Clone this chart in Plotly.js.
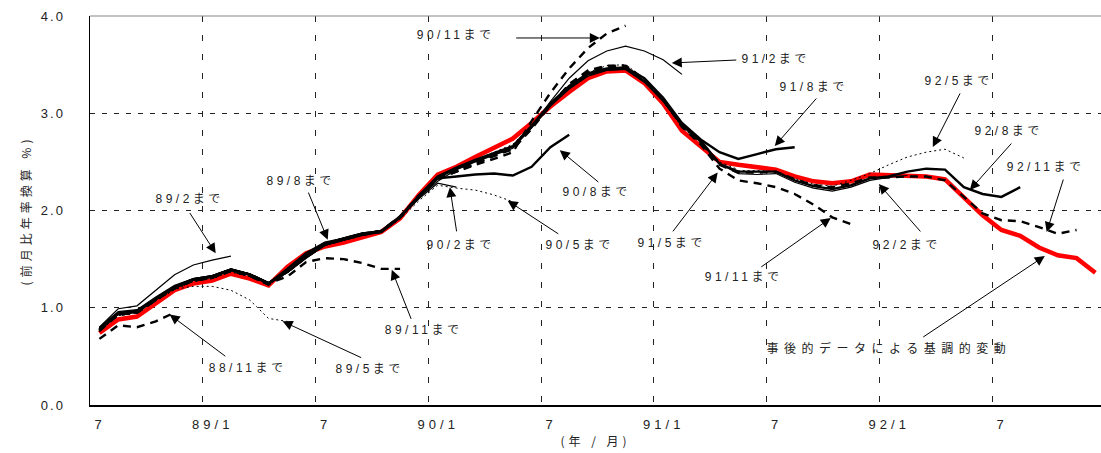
<!DOCTYPE html>
<html>
<head>
<meta charset="utf-8">
<script src="https://cdn.plot.ly/plotly-3.0.1.min.js"></script>
<style>
  body { margin: 0; background: #fff; }
  #chart { width: 1101px; height: 453px; }
  #chart .xtick text { letter-spacing: 4px; }
  #chart .ytick text { letter-spacing: 2px; }
  #chart .annotation-text { letter-spacing: 3.5px; }
  #chart g.annotation[data-index="34"] .annotation-text { letter-spacing: 5.5px; }
  #chart .g-xtitle text, #chart .g-ytitle text { letter-spacing: 4px; }
</style>
</head>
<body>
<div id="chart"></div>
<script>
// Monthly index runs from 88/7 (0) to 92/12 (53).
// Axis labels, one every six months.
const tickLabels = ['7', '89/1', '7', '90/1', '7', '91/1', '7', '92/1', '7'];

// Trend estimates (annualised m/m, %) as known at each vintage month.
const v8811 = [0.68, 0.82, 0.80, 0.86, 0.95];
const v8902 = [0.80, 0.99, 1.02, 1.18, 1.34, 1.44, 1.49, 1.53];
const v8905 = [0.76, 0.92, 0.95, 1.07, 1.19, 1.22, 1.22, 1.18, 1.08, 0.89, 0.86];
const v8908 = [0.77, 0.94, 0.96, 1.09, 1.21, 1.29, 1.32, 1.39, 1.34, 1.25, 1.40, 1.56, 1.67, 1.71];
const v8911 = [0.76, 0.93, 0.95, 1.08, 1.21, 1.28, 1.31, 1.38, 1.33, 1.25, 1.32, 1.47, 1.51, 1.50, 1.46, 1.40, 1.40];
const v9002 = [0.79, 0.95, 0.97, 1.10, 1.22, 1.30, 1.33, 1.40, 1.35, 1.26, 1.38, 1.54, 1.66, 1.72, 1.77, 1.79, 1.93, 2.12, 2.28, 2.24];
const v9005 = [0.76, 0.92, 0.95, 1.07, 1.19, 1.27, 1.30, 1.37, 1.32, 1.24, 1.36, 1.52, 1.64, 1.70, 1.75, 1.78, 1.91, 2.10, 2.26, 2.23, 2.21, 2.16, 2.09];
const v9008 = [0.78, 0.94, 0.96, 1.09, 1.21, 1.29, 1.32, 1.39, 1.34, 1.25, 1.38, 1.53, 1.66, 1.71, 1.76, 1.79, 1.94, 2.14, 2.33, 2.35, 2.37, 2.38, 2.36, 2.45, 2.65, 2.78];
const v9011 = [0.77, 0.93, 0.95, 1.08, 1.20, 1.28, 1.31, 1.38, 1.33, 1.24, 1.37, 1.52, 1.65, 1.70, 1.75, 1.78, 1.93, 2.15, 2.33, 2.40, 2.47, 2.53, 2.60, 2.92, 3.21, 3.46, 3.67, 3.82, 3.90];
const v9102 = [0.80, 0.96, 0.98, 1.11, 1.23, 1.30, 1.33, 1.40, 1.35, 1.26, 1.36, 1.51, 1.64, 1.70, 1.76, 1.79, 1.93, 2.14, 2.35, 2.43, 2.51, 2.58, 2.66, 2.86, 3.12, 3.36, 3.54, 3.64, 3.69, 3.64, 3.55, 3.40];
const v9105 = [0.77, 0.93, 0.95, 1.08, 1.20, 1.28, 1.31, 1.38, 1.33, 1.24, 1.37, 1.52, 1.65, 1.70, 1.75, 1.78, 1.93, 2.15, 2.34, 2.43, 2.51, 2.59, 2.67, 2.87, 3.09, 3.28, 3.42, 3.49, 3.50, 3.36, 3.16, 2.90, 2.72, 2.50, 2.42];
const v9108 = [0.78, 0.94, 0.96, 1.09, 1.21, 1.29, 1.32, 1.39, 1.34, 1.25, 1.37, 1.52, 1.65, 1.70, 1.76, 1.78, 1.93, 2.15, 2.35, 2.44, 2.52, 2.59, 2.66, 2.87, 3.10, 3.28, 3.41, 3.46, 3.47, 3.36, 3.16, 2.90, 2.73, 2.60, 2.53, 2.58, 2.63, 2.65];
const v9111 = [0.77, 0.93, 0.95, 1.08, 1.20, 1.28, 1.31, 1.38, 1.33, 1.24, 1.37, 1.52, 1.65, 1.71, 1.76, 1.79, 1.94, 2.15, 2.32, 2.40, 2.48, 2.56, 2.63, 2.84, 3.08, 3.30, 3.44, 3.49, 3.49, 3.35, 3.14, 2.86, 2.68, 2.43, 2.31, 2.28, 2.24, 2.17, 2.06, 1.93, 1.86];
const v9202 = [0.79, 0.95, 0.97, 1.10, 1.22, 1.30, 1.33, 1.40, 1.35, 1.26, 1.37, 1.53, 1.66, 1.72, 1.77, 1.79, 1.93, 2.13, 2.30, 2.42, 2.50, 2.57, 2.64, 2.85, 3.08, 3.25, 3.38, 3.44, 3.45, 3.32, 3.13, 2.87, 2.70, 2.48, 2.38, 2.37, 2.38, 2.29, 2.23, 2.20, 2.24, 2.31, 2.34, 2.36];
const v9205 = [0.76, 0.92, 0.95, 1.07, 1.19, 1.27, 1.30, 1.37, 1.32, 1.24, 1.38, 1.53, 1.64, 1.69, 1.74, 1.78, 1.92, 2.15, 2.35, 2.44, 2.52, 2.60, 2.68, 2.88, 3.09, 3.26, 3.39, 3.45, 3.46, 3.33, 3.12, 2.86, 2.69, 2.47, 2.41, 2.41, 2.40, 2.33, 2.27, 2.25, 2.31, 2.38, 2.47, 2.55, 2.60, 2.63, 2.54];
const v9208 = [0.78, 0.94, 0.96, 1.09, 1.21, 1.29, 1.32, 1.39, 1.34, 1.25, 1.37, 1.52, 1.65, 1.70, 1.75, 1.78, 1.93, 2.15, 2.34, 2.43, 2.51, 2.58, 2.66, 2.86, 3.08, 3.26, 3.40, 3.45, 3.46, 3.33, 3.13, 2.88, 2.72, 2.48, 2.40, 2.40, 2.40, 2.31, 2.25, 2.22, 2.26, 2.33, 2.35, 2.40, 2.43, 2.42, 2.24, 2.17, 2.14, 2.24];
const v9211 = [0.77, 0.93, 0.95, 1.08, 1.20, 1.28, 1.31, 1.38, 1.33, 1.24, 1.38, 1.53, 1.66, 1.71, 1.76, 1.79, 1.93, 2.14, 2.33, 2.42, 2.50, 2.57, 2.64, 2.85, 3.09, 3.28, 3.43, 3.48, 3.48, 3.34, 3.14, 2.87, 2.70, 2.47, 2.39, 2.39, 2.40, 2.32, 2.26, 2.24, 2.28, 2.34, 2.34, 2.35, 2.35, 2.31, 2.14, 1.97, 1.90, 1.89, 1.83, 1.76, 1.80];

// Ex-post trend based on the full (revised) data.
const exPost = [0.74, 0.88, 0.91, 1.04, 1.18, 1.25, 1.28, 1.35, 1.30, 1.23, 1.42, 1.56, 1.63, 1.67, 1.73, 1.78, 1.92, 2.16, 2.37, 2.45, 2.55, 2.64, 2.74, 2.90, 3.07, 3.22, 3.36, 3.43, 3.44, 3.31, 3.10, 2.82, 2.66, 2.50, 2.47, 2.45, 2.42, 2.35, 2.30, 2.28, 2.30, 2.37, 2.36, 2.35, 2.35, 2.32, 2.13, 1.95, 1.80, 1.74, 1.62, 1.54, 1.51, 1.36];

// Line style by vintage month: Nov = heavy dash, Feb = thin, May = dotted, Aug = heavy.
const STYLE = {
  nov: { color: '#000', width: 2.4, dash: '8px,6px' },
  feb: { color: '#000', width: 1.2, dash: 'solid' },
  may: { color: '#000', width: 1.0, dash: '2px,3px' },
  aug: { color: '#000', width: 2.4, dash: 'solid' }
};

const vintages = [
  ['88/11', v8811, 'nov'], ['89/2', v8902, 'feb'], ['89/5', v8905, 'may'], ['89/8', v8908, 'aug'],
  ['89/11', v8911, 'nov'], ['90/2', v9002, 'feb'], ['90/5', v9005, 'may'], ['90/8', v9008, 'aug'],
  ['90/11', v9011, 'nov'], ['91/2', v9102, 'feb'], ['91/5', v9105, 'may'], ['91/8', v9108, 'aug'],
  ['91/11', v9111, 'nov'], ['92/2', v9202, 'feb'], ['92/5', v9205, 'may'], ['92/8', v9208, 'aug'],
  ['92/11', v9211, 'nov']
];

const idx = arr => arr.map((_, i) => i);

const traces = [{
  x: idx(exPost), y: exPost, type: 'scatter', mode: 'lines',
  line: { color: '#ff0000', width: 4.5 }, hoverinfo: 'skip'
}];
vintages.forEach(([name, vals, key]) => {
  traces.push({
    name: name, x: idx(vals), y: vals, type: 'scatter', mode: 'lines',
    line: STYLE[key], hoverinfo: 'skip'
  });
});

// Label text positions (month index, value) and arrows (tail -> head).
const FONT = { family: 'Liberation Sans, Arial, "Noto Sans CJK JP", sans-serif', size: 12, color: '#222' };
const labels = [
  ['89/2まで', 4.81, 2.12, [4.76, 1.99, 6.19, 1.56]],
  ['88/11まで', 7.90, 0.38, [6.78, 0.49, 3.74, 0.93]],
  ['89/5まで', 14.39, 0.37, [14.01, 0.48, 9.75, 0.86]],
  ['89/8まで', 10.71, 2.30, [11.09, 2.20, 12.15, 1.70]],
  ['89/11まで', 17.26, 0.77, [16.62, 0.87, 15.56, 1.39]],
  ['90/2まで', 19.23, 1.645, [19.02, 1.77, 18.65, 2.24]],
  ['90/5まで', 25.56, 1.645, [24.50, 1.75, 21.73, 2.10]],
  ['90/8まで', 26.47, 2.19, [26.63, 2.28, 24.50, 2.62]],
  ['90/11まで', 18.96, 3.805, [22.10, 3.774, 26.63, 3.774]],
  ['91/2まで', 35.99, 3.558, [33.97, 3.548, 30.46, 3.517]],
  ['91/5まで', 30.46, 1.666, [30.46, 1.77, 32.90, 2.39]],
  ['91/8まで', 38.01, 3.27, [38.22, 3.167, 35.94, 2.663]],
  ['91/11まで', 34.29, 1.316, [35.14, 1.409, 38.92, 1.923]],
  ['92/2まで', 42.96, 1.645, [43.76, 1.769, 41.48, 2.272]],
  ['92/5まで', 45.73, 3.332, [45.84, 3.219, 44.35, 2.653]],
  ['92/8まで', 48.39, 2.817, [48.60, 2.704, 46.32, 2.211]],
  ['92/11まで', 50.36, 2.447, [51.32, 2.334, 50.41, 1.779]],
  ['事後的データによる基調的変動', 42.00, 0.586, [43.76, 0.689, 50.31, 1.532]]
];

const annotations = [];
labels.forEach(([text, tx, ty, arr]) => {
  annotations.push({
    text: text, x: tx, y: ty, xref: 'x', yref: 'y', showarrow: false,
    font: FONT, xanchor: 'center', yanchor: 'middle'
  });
  annotations.push({
    text: '', x: arr[2], y: arr[3], ax: arr[0], ay: arr[1],
    xref: 'x', yref: 'y', axref: 'x', ayref: 'y',
    showarrow: true, arrowhead: 2, arrowsize: 2, arrowwidth: 1, arrowcolor: '#000', standoff: 0
  });
});

const tickPos = tickLabels.map((_, i) => i * 6 - 0.5);

const layout = {
  width: 1101, height: 453,
  margin: { l: 90, r: 0, t: 16, b: 48 },
  paper_bgcolor: '#fff', plot_bgcolor: '#fff',
  showlegend: false,
  font: { family: 'Liberation Sans, Arial, "Noto Sans CJK JP", sans-serif', color: '#222' },
  xaxis: {
    range: [-0.5, 53.3], tickvals: tickPos, ticktext: tickLabels,
    showgrid: true, gridcolor: '#222', gridwidth: 1, griddash: '6px,13px',
    showline: true, linecolor: '#000', linewidth: 1.5, zeroline: false,
    ticks: '', ticklabelshift: 10, ticklabelstandoff: 7,
    tickfont: { size: 13, color: '#222' },
    title: { text: '(年 / 月)', font: { size: 12, color: '#222', family: '"Noto Sans CJK JP", sans-serif' }, standoff: 6 }
  },
  yaxis: {
    range: [0, 4], dtick: 1, tickformat: '.1f',
    showgrid: true, gridcolor: '#222', gridwidth: 1, griddash: '5px,7px',
    showline: true, linecolor: '#000', linewidth: 1.5, zeroline: false,
    ticks: '', ticklabelstandoff: 21,
    tickfont: { size: 13, color: '#222' },
    title: { text: '(前月比年率換算 %)', font: { size: 12, color: '#222', family: '"Noto Sans CJK JP", sans-serif' }, standoff: 12 }
  },
  shapes: [{
    type: 'line', xref: 'paper', yref: 'paper', x0: 0, x1: 1, y0: 1, y1: 1,
    line: { color: '#888', width: 1.2 }
  }],
  annotations: annotations
};

Plotly.newPlot('chart', traces, layout, { staticPlot: true, displayModeBar: false });
</script>
</body>
</html>
